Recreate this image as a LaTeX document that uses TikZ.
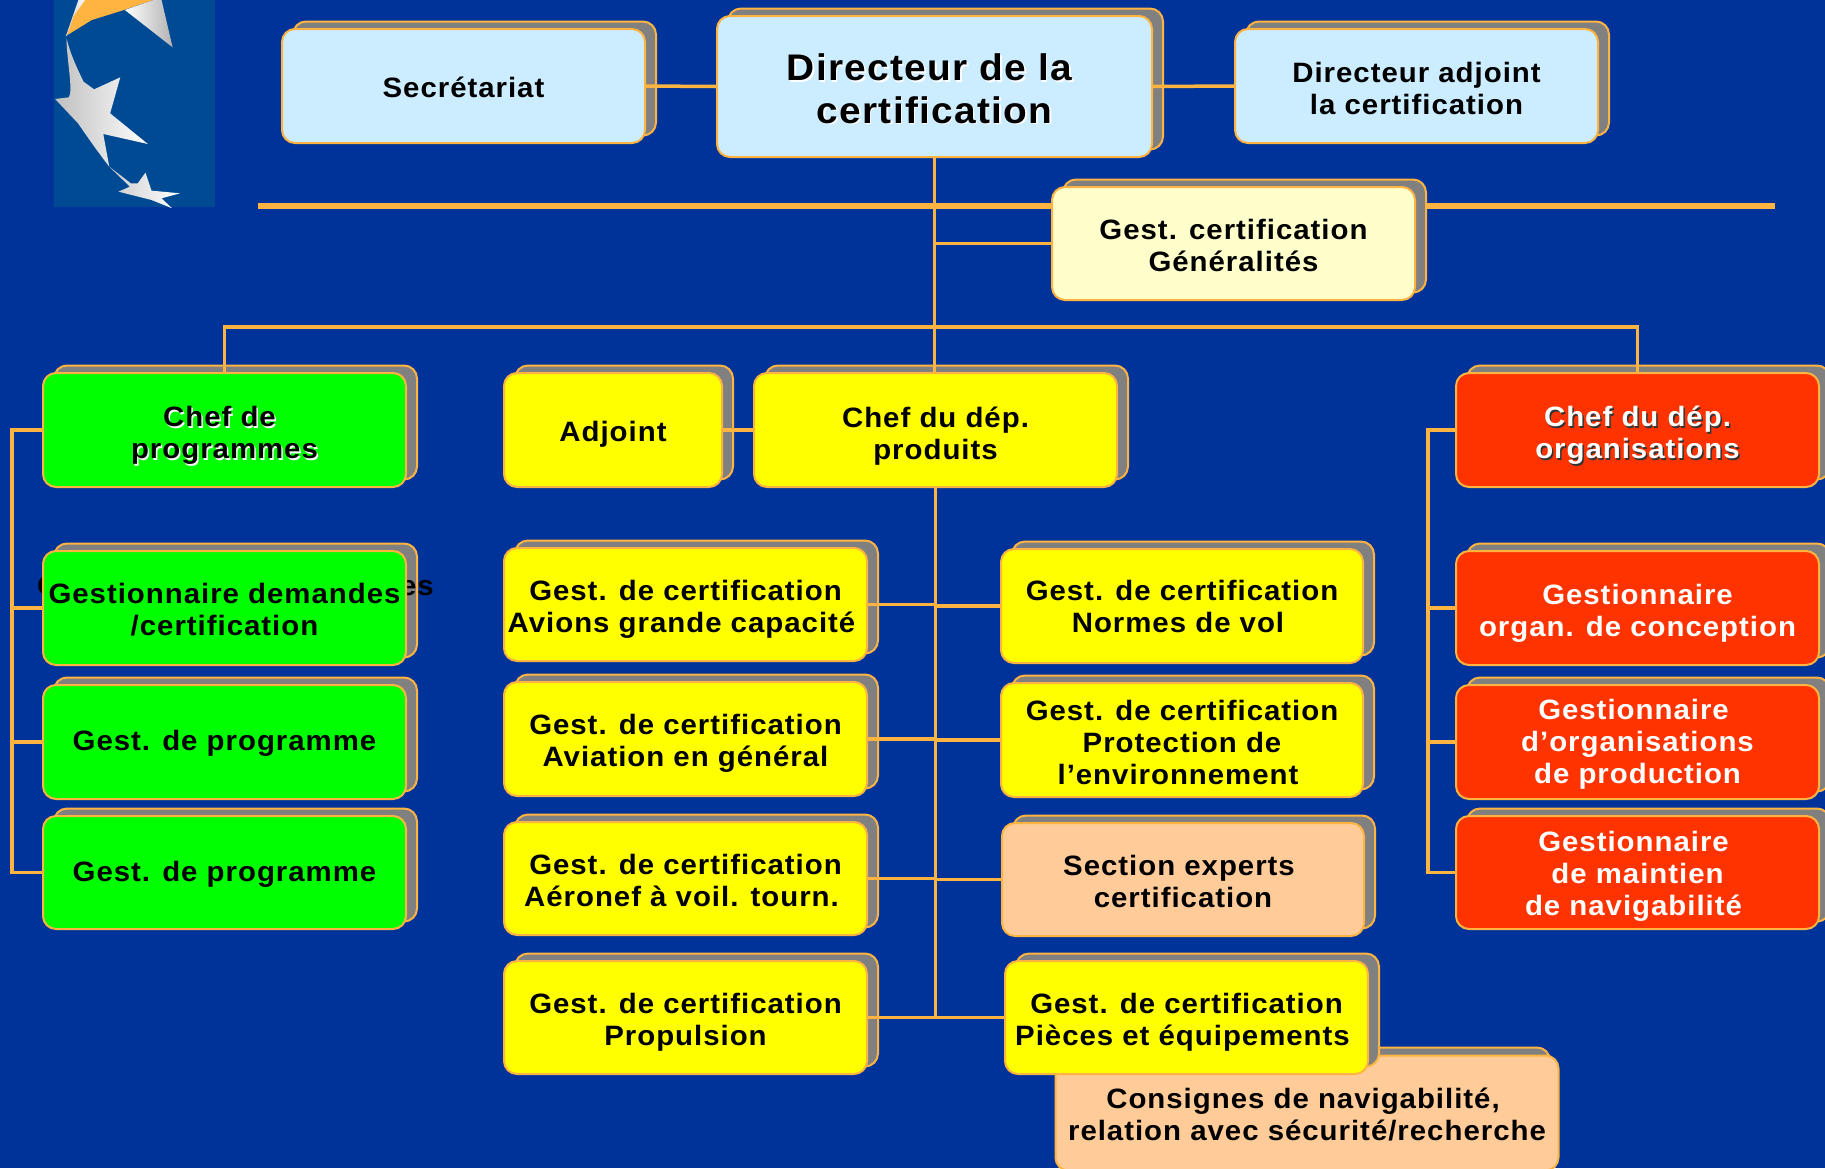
\documentclass[tikz,border=0pt]{standalone}
\usepackage{fontspec}
\setmainfont{Liberation Sans}[LetterSpace=3.5,FakeStretch=1.05]
\usetikzlibrary{calc}
\definecolor{bgblue}{HTML}{003399}
\definecolor{logoblue}{HTML}{004A93}
\definecolor{linegold}{HTML}{FFB340}
\definecolor{shadowgrey}{HTML}{808080}
\definecolor{lightbluebox}{HTML}{CCECFF}
\definecolor{paleyellow}{HTML}{FFFFCC}
\definecolor{peach}{HTML}{FFCC99}
\definecolor{redbox}{HTML}{FF3300}
\definecolor{yellowbox}{HTML}{FFFF00}
\definecolor{greenbox}{HTML}{00FF00}
\tikzset{
  x=1pt,y=-1pt,
  boxbase/.style={rounded corners=13pt,draw=linegold,line width=2pt,inner sep=0pt,align=center},
  txt/.style={font=\fontsize{28}{32}\selectfont\bfseries},
  bigtxt/.style={font=\fontsize{37}{42.5}\selectfont\bfseries},
  conn/.style={draw=linegold,line width=3.5pt},
  thickbar/.style={draw=linegold,line width=6pt},
  stray/.style={font=\fontsize{28}{32}\selectfont\bfseries,inner sep=0pt,text=black},
}
\newcommand\shbx[6][11]{%
  \node[boxbase,fill=shadowgrey,minimum width={#5-#3},minimum height={#6-#4}] (#2-s)
    at ({(#3+#5)/2+#1},{(#4+#6)/2-7.5}) {};}
\newcommand\bx[8]{%
  \shbx{#1}{#2}{#3}{#4}{#5}%
  \node[boxbase,txt,fill=#6,minimum width={#4-#2},minimum height={#5-#3},#7] (#1)
    at ({(#2+#4)/2},{(#3+#5)/2}) {#8};}
\newcommand\emb[2]{\leavevmode\rlap{\raisebox{-1.5pt}{\hspace{1.5pt}\textcolor{#1}{#2}}}#2}
% pushes a text block down by #1 units of the shrunk view
\newcommand\D[1]{\rule{0pt}{\dimexpr 21pt+#1pt*233/100\relax}}
\newcommand\DB[1]{\rule{0pt}{\dimexpr 28pt+#1pt*233/100\relax}}
\newcommand\Sh{\hspace*{8pt}}
\begin{document}
\begin{tikzpicture}
\clip (0,0) rectangle (1825,1168);
\fill[bgblue] (0,0) rectangle (1825,1168);
% logo
\begin{scope}
\clip (54,0) rectangle (215,207);
\fill[logoblue] (54,0) rectangle (215,207);
\begin{scope}[xscale=0.459,yscale=0.3333]
\shade[left color=gray!40,right color=white] (172,-5) -- (190,-5) -- (147,105) -- (143,110) -- cycle;
\fill[linegold] (188,-5) -- (345,-5) -- (270,30) -- (200,60) -- (147,105) -- (160,50) -- cycle;
\shade[left color=white,right color=gray!60] (272,30) -- (345,-5) -- (352,0) -- (376,142) -- cycle;
\shade[left color=gray!50,right color=white] (145,115) .. controls (155,170) and (170,210) .. (182,245) -- (205,268) -- (262,232) -- (240,340) -- (322,432) -- (225,402) -- (238,500) .. controls (210,450) and (190,410) .. (170,370) -- (120,297) -- (150,292) .. controls (160,270) and (145,180) .. cycle;
\shade[left color=gray!40,right color=white] (238,500) -- (285,550) -- (300,550) -- (317,518) -- (330,572) -- (392,580) -- (352,595) -- (375,625) -- (330,600) -- (258,575) -- (283,560) -- cycle;
\end{scope}
\end{scope}
% thick bar (runs behind the Generalites box)
\coordinate (barL) at (258,206);
\coordinate (barR) at (1775,206);
\draw[thickbar] (barL) -- (barR);
% top row
\bx{sec}{282}{29}{645}{143}{lightbluebox}{}{\D{1}Secrétariat}
\bx{dir}{717}{16}{1152}{157}{lightbluebox}{bigtxt}{\DB{2}\emb{white}{Directeur de la}\hspace*{10pt}\\\emb{white}{certification}}
\bx{adj}{1235}{29}{1598}{143}{lightbluebox}{}{\D{2}Directeur adjoint\\la certification}
\bx{gen}{1052}{187}{1415}{300}{paleyellow}{}{\D{1}Gest. certification\\Généralités}
% second row
\bx{cp}{43}{373}{406}{487}{greenbox}{}{\D{5}\emb{white}{Chef de}\hspace*{10pt}\\\emb{white}{programmes}}
\bx{ad}{504}{373}{722}{487}{yellowbox}{}{\D{3}Adjoint}
\bx{dp}{754}{373}{1117}{487}{yellowbox}{}{\D{5}Chef du dép.\\produits}
\bx{co}{1456}{373}{1819}{487}{redbox}{text=white}{\D{5}\emb{black!80}{Chef du dép.}\\\emb{black!80}{organisations}}
% green column
\shbx{gd}{43}{551}{406}{665}
\node[stray,anchor=base west] (strayg) at (37,595) {G};
\node[stray,anchor=base east] (straye) at (434,595) {es};
\node[boxbase,txt,fill=greenbox,minimum width=363,minimum height=114] (gd) at (224.5,608) {\D{1}Gestionnaire demandes\\/certification};
\bx{gp1}{43}{685}{406}{799}{greenbox}{}{\D{1}Gest. de programme}
\bx{gp2}{43}{816}{406}{929}{greenbox}{}{\D{1}Gest. de programme}
% red column
\bx{o1}{1456}{551}{1819}{665}{redbox}{text=white}{\D{4}Gestionnaire\\organ. de conception}
\bx{o2}{1456}{685}{1819}{799}{redbox}{text=white}{\D{2}Gestionnaire\Sh\\d’organisations\Sh\\de production}
\bx{o3}{1456}{816}{1819}{929}{redbox}{text=white}{\D{3}Gestionnaire\Sh\\de maintien\Sh\\de navigabilité\Sh}
% centre left
\bx{l1}{504}{548}{867}{661}{yellowbox}{}{\D{4}Gest. de certification\\Avions grande capacité\Sh}
\bx{l2}{504}{682}{867}{796}{yellowbox}{}{\D{3}Gest. de certification\\Aviation en général}
\bx{l3}{504}{822}{867}{935}{yellowbox}{}{\D{1}Gest. de certification\\Aéronef à voil. tourn.\Sh}
\bx{l4}{504}{961}{867}{1074}{yellowbox}{}{\D{4}Gest. de certification\\Propulsion}
% centre right
\bx{r1}{1001}{549}{1363}{663}{yellowbox}{}{Gest. de certification\\Normes de vol\Sh}
\bx{r2}{1001}{683}{1363}{797}{yellowbox}{}{\D{2}Gest. de certification\\Protection de\Sh\\l’environnement\Sh}
\bx{r3}{1002}{823}{1364}{936}{peach}{}{\D{1}Section experts\Sh\\certification}
% Consignes box, under the Pieces box
\node[boxbase,fill=shadowgrey,minimum width=490,minimum height=115] (cons-s) at (1305,1105) {};
\node[boxbase,txt,fill=peach,minimum width=503,minimum height=115] (cons) at (1307,1113) {\D{1}Consignes de navigabilité,\Sh\\relation avec sécurité/recherche};
\bx{r4}{1005}{961}{1368}{1074}{yellowbox}{}{\D{4}Gest. de certification\\Pièces et équipements\Sh}
% connectors
\coordinate (rule) at (935,327);
\coordinate (lb) at (12,872);
\coordinate (rb) at (1428,872);
\draw[conn] (sec.east) -- (dir.west);
\draw[conn] (dir.east) -- (adj.west);
\draw[conn] (dir.south) -- (dir.south |- dp.north);
\draw[conn] (gen.west) -- (gen.west -| dir.south);
\draw[conn] (cp.north) -- (cp.north |- rule) -- (co.north |- rule) -- (co.north);
\draw[conn] (ad.east) -- (dp.west);
\draw[conn] (dp.south) -- (dp.south |- l4.east);
\foreach \n in {l1,l2,l3,l4} \draw[conn] (\n.east) -- (\n.east -| dp.south);
\foreach \n in {r1,r2,r3,r4} \draw[conn] (\n.west) -- (\n.west -| dp.south);
\draw[conn] (cp.west) -- (cp.west -| lb) -- (gp2.west -| lb) -- (gp2.west);
\foreach \n in {gd,gp1} \draw[conn] (\n.west) -- (\n.west -| lb);
\draw[conn] (co.west) -- (co.west -| rb) -- (o3.west -| rb) -- (o3.west);
\foreach \n in {o1,o2} \draw[conn] (\n.west) -- (\n.west -| rb);
\end{tikzpicture}
\end{document}
